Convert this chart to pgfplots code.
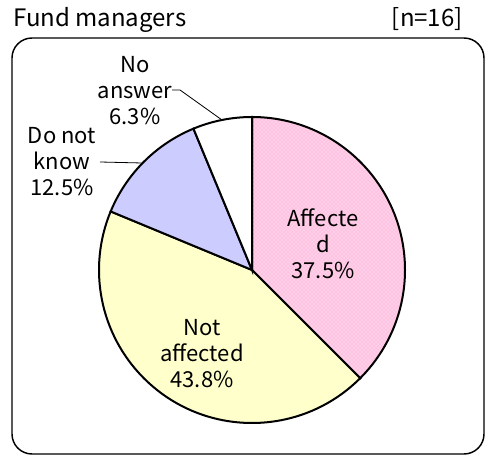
\documentclass[border=0pt]{standalone}
\usepackage{pgfplots}
\pgfplotsset{compat=1.18}
\usepackage{pgfplotstable}
\usepackage{fontspec}
\setmainfont{Noto Sans CJK JP}
\usetikzlibrary{patterns}
\definecolor{pinkA}{RGB}{255,206,232}
\definecolor{pinkB}{RGB}{250,160,205}
\definecolor{yellowA}{RGB}{255,255,204}
\definecolor{lavA}{RGB}{204,204,255}

\pgfplotstableread{
label value
Affected 37.5
NotAffected 43.75
DoNotKnow 12.5
NoAnswer 6.25
}\piedata

\begin{document}
\begin{tikzpicture}[x=0.75pt,y=0.75pt]
\useasboundingbox (0,0) rectangle (485,456);
% values -> angles (clockwise from top)
\pgfplotstablegetelem{0}{value}\of\piedata \pgfmathsetmacro\va{\pgfplotsretval}
\pgfplotstablegetelem{1}{value}\of\piedata \pgfmathsetmacro\vb{\pgfplotsretval}
\pgfplotstablegetelem{2}{value}\of\piedata \pgfmathsetmacro\vc{\pgfplotsretval}
\pgfplotstablegetelem{3}{value}\of\piedata \pgfmathsetmacro\vd{\pgfplotsretval}
\pgfmathsetmacro\aA{90}
\pgfmathsetmacro\aB{\aA-3.6*\va}
\pgfmathsetmacro\aC{\aB-3.6*\vb}
\pgfmathsetmacro\aD{\aC-3.6*\vc}
\pgfmathsetmacro\aE{\aD-3.6*\vd}

% frame
\draw[line width=1.1pt, rounded corners=15pt] (12,418) rectangle (484,2);
\node[anchor=base west, inner sep=0, font=\fontsize{18}{20}\selectfont] at (13,429) {Fund managers};
\node[anchor=base east, inner sep=0, font=\fontsize{18}{20}\selectfont] at (463,429) {[n=16]};

\begin{axis}[
  at={(189pt,139.5pt)}, anchor=center,
  scale only axis, width=229.5pt, height=229.5pt,
  xmin=-1, xmax=1, ymin=-1, ymax=1,
  hide axis, clip=false]
\filldraw[fill=pinkA, draw=none] (axis cs:0,0) -- (axis cs:{cos(\aA)},{sin(\aA)}) arc[start angle=\aA, end angle=\aB, radius=114.75pt] -- cycle;
\fill[pattern=crosshatch dots, pattern color=pinkB] (axis cs:0,0) -- (axis cs:{cos(\aA)},{sin(\aA)}) arc[start angle=\aA, end angle=\aB, radius=114.75pt] -- cycle;
\draw[line width=1.5pt] (axis cs:0,0) -- (axis cs:{cos(\aA)},{sin(\aA)}) arc[start angle=\aA, end angle=\aB, radius=114.75pt] -- cycle;
\filldraw[fill=yellowA, draw=black, line width=1.5pt] (axis cs:0,0) -- (axis cs:{cos(\aB)},{sin(\aB)}) arc[start angle=\aB, end angle=\aC, radius=114.75pt] -- cycle;
\filldraw[fill=lavA, draw=black, line width=1.5pt] (axis cs:0,0) -- (axis cs:{cos(\aC)},{sin(\aC)}) arc[start angle=\aC, end angle=\aD, radius=114.75pt] -- cycle;
\filldraw[fill=white, draw=black, line width=1.5pt] (axis cs:0,0) -- (axis cs:{cos(\aD)},{sin(\aD)}) arc[start angle=\aD, end angle=\aE, radius=114.75pt] -- cycle;
\end{axis}

% leader lines
\draw[line width=0.6pt] (172,366) -- (180,366) -- (222,336);
\draw[line width=0.6pt] (100,294) -- (142,293);

% labels
\tikzset{lbl/.style={align=center, inner sep=0, font=\fontsize{16.5}{19.5}\selectfont}}
\node[lbl] at (135,365) {No\\answer\\6.3\%};
\node[lbl] at (62,294) {Do not\\know\\12.5\%};
\node[lbl] at (323,212) {Affecte\\d\\37.5\%};
\node[lbl] at (202,102) {Not\\affected\\43.8\%};
\end{tikzpicture}
\end{document}
